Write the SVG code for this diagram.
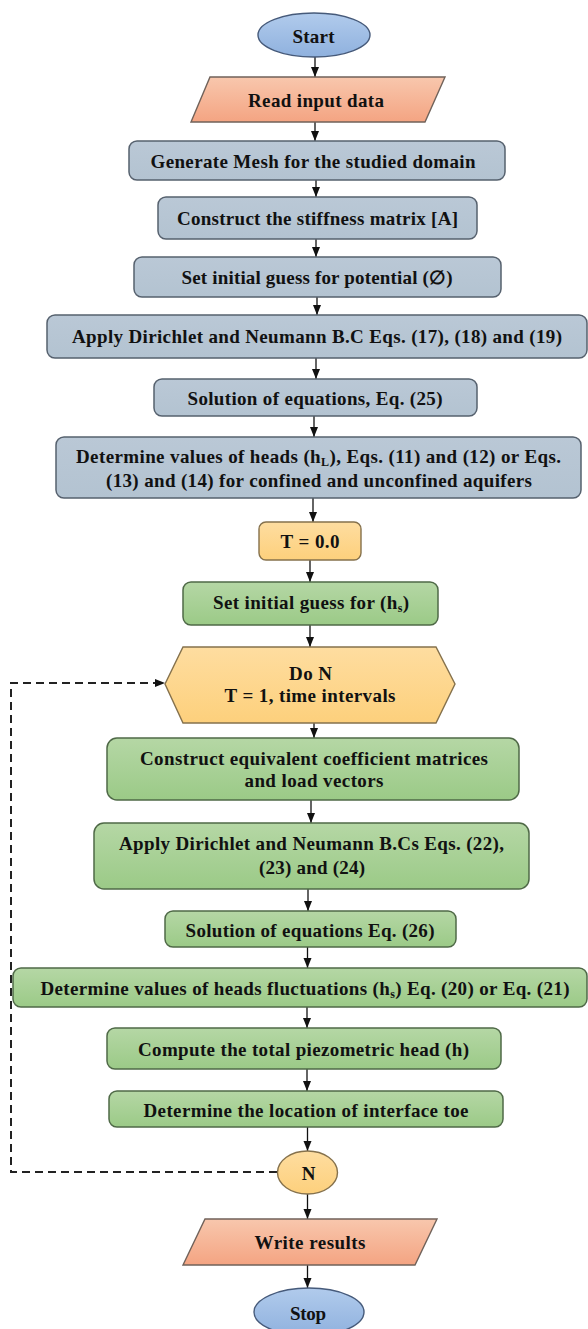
<svg xmlns="http://www.w3.org/2000/svg" width="588" height="1329" viewBox="0 0 588 1329">
<defs>
<linearGradient id="gBlue" x1="0" y1="0" x2="0" y2="1"><stop offset="0" stop-color="#b1cbec"/><stop offset="1" stop-color="#8fb1de"/></linearGradient>
<linearGradient id="gSalmon" x1="0" y1="0" x2="0" y2="1"><stop offset="0" stop-color="#f8c7ad"/><stop offset="1" stop-color="#f4a482"/></linearGradient>
<linearGradient id="gGray" x1="0" y1="0" x2="0" y2="1"><stop offset="0" stop-color="#bac8d6"/><stop offset="1" stop-color="#b3c3d1"/></linearGradient>
<linearGradient id="gGreen" x1="0" y1="0" x2="0" y2="1"><stop offset="0" stop-color="#b5d7a5"/><stop offset="1" stop-color="#9bca87"/></linearGradient>
<linearGradient id="gYellow" x1="0" y1="0" x2="0" y2="1"><stop offset="0" stop-color="#fedda0"/><stop offset="1" stop-color="#fdd07c"/></linearGradient>
<marker id="arr" markerUnits="userSpaceOnUse" markerWidth="10" markerHeight="10" viewBox="0 0 10 10" refX="10" refY="5" orient="auto">
<path d="M0,1 L10,5 L0,9 Z" fill="#111"/>
</marker>
</defs>
<style>
text{font-family:"Liberation Serif","DejaVu Serif",serif;font-weight:bold;font-size:19px;fill:#111;text-anchor:middle}
.sub{font-size:12px}
.gray{fill:url(#gGray);stroke:#56616e;stroke-width:1.5}
.green{fill:url(#gGreen);stroke:#4f6947;stroke-width:1.5}
.yellow{fill:url(#gYellow);stroke:#85714c;stroke-width:1.4}
.salmon{fill:url(#gSalmon);stroke:#70625a;stroke-width:1.4}
.blue{fill:url(#gBlue);stroke:#465a7a;stroke-width:1.4}
.conn line{stroke:#111;stroke-width:1.3;marker-end:url(#arr)}
.dash{fill:none;stroke:#222;stroke-width:2;stroke-dasharray:8 5;marker-end:url(#arr)}
</style>
<rect width="588" height="1329" fill="#ffffff"/>

<g class="conn" id="connectors">
<line x1="315" y1="57" x2="315" y2="77"/>
<line x1="315" y1="122" x2="315" y2="141"/>
<line x1="316" y1="180" x2="316" y2="197"/>
<line x1="316" y1="239" x2="316" y2="257"/>
<line x1="317" y1="297" x2="317" y2="315"/>
<line x1="316" y1="358" x2="316" y2="379"/>
<line x1="314" y1="416" x2="314" y2="437"/>
<line x1="313" y1="498" x2="313" y2="522"/>
<line x1="310" y1="560" x2="310" y2="582"/>
<line x1="310" y1="625" x2="310" y2="647"/>
<line x1="314" y1="723" x2="314" y2="738"/>
<line x1="311" y1="800" x2="311" y2="823"/>
<line x1="308" y1="889" x2="308" y2="911"/>
<line x1="307.5" y1="947" x2="307.5" y2="968"/>
<line x1="307" y1="1007" x2="307" y2="1028"/>
<line x1="307" y1="1069" x2="307" y2="1091"/>
<line x1="307.5" y1="1127" x2="307.5" y2="1151"/>
<line x1="307.5" y1="1194" x2="307.5" y2="1219"/>
<line x1="307.5" y1="1265" x2="307.5" y2="1288"/>
<path class="dash" d="M277,1172 L11,1172 L11,683 L165,683"/>
</g>

<g id="start">
<ellipse class="blue" cx="314" cy="35" rx="56" ry="22"/>
<text x="313.5" y="43" textLength="42">Start</text>
</g>
<g id="read-input">
<polygon class="salmon" points="210,77 445,77 425,122 191,122"/>
<text x="316" y="107" textLength="136">Read input data</text>
</g>
<g id="generate-mesh">
<rect class="gray" x="129" y="141" width="376" height="39" rx="8"/>
<text x="313" y="168" textLength="325">Generate Mesh for the studied domain</text>
</g>
<g id="stiffness">
<rect class="gray" x="158" y="197" width="319" height="42" rx="8"/>
<text x="317.5" y="225" textLength="281">Construct the stiffness matrix [A]</text>
</g>
<g id="initial-potential">
<rect class="gray" x="134" y="257" width="367" height="40" rx="8"/>
<text x="317" y="284" textLength="271">Set initial guess for potential (∅)</text>
</g>
<g id="apply-bc1">
<rect class="gray" x="47" y="315" width="540" height="43" rx="8"/>
<text x="317" y="342.5" textLength="490">Apply Dirichlet and Neumann B.C Eqs. (17), (18) and (19)</text>
</g>
<g id="solution25">
<rect class="gray" x="154" y="379" width="323" height="37" rx="8"/>
<text x="315" y="405" textLength="255">Solution of equations, Eq. (25)</text>
</g>
<g id="heads-hl">
<rect class="gray" x="56" y="437" width="525" height="61" rx="8"/>
<text x="318.5" y="463" textLength="485">Determine values of heads (h<tspan class="sub" dy="3">L</tspan><tspan dy="-3">), Eqs. (11) and (12) or Eqs.</tspan></text>
<text x="319" y="487" textLength="426">(13) and (14) for confined and unconfined aquifers</text>
</g>
<g id="t0">
<rect class="yellow" x="259" y="522" width="102" height="38" rx="7"/>
<text x="310" y="548" textLength="59">T = 0.0</text>
</g>
<g id="initial-hs">
<rect class="green" x="183" y="582" width="255" height="43" rx="8"/>
<text x="311" y="609" textLength="196">Set initial guess for (h<tspan class="sub" dy="3">s</tspan><tspan dy="-3">)</tspan></text>
</g>
<g id="do-n">
<polygon class="yellow" points="165,684 183,647 436,647 455,684 436,723 183,723"/>
<text x="310.5" y="680" textLength="43">Do N</text>
<text x="310" y="702" textLength="171">T = 1, time intervals</text>
</g>
<g id="coef-matrices">
<rect class="green" x="107" y="738" width="412" height="62" rx="10"/>
<text x="314" y="765" textLength="348">Construct equivalent coefficient matrices</text>
<text x="314" y="787" textLength="139">and load vectors</text>
</g>
<g id="apply-bc2">
<rect class="green" x="94" y="823" width="435" height="66" rx="10"/>
<text x="311.5" y="850" textLength="385">Apply Dirichlet and Neumann B.Cs Eqs. (22),</text>
<text x="312" y="874" textLength="106">(23) and (24)</text>
</g>
<g id="solution26">
<rect class="green" x="165" y="911" width="291" height="36" rx="8"/>
<text x="310" y="937" textLength="249">Solution of equations Eq. (26)</text>
</g>
<g id="heads-hs">
<rect class="green" x="13" y="968" width="574" height="39" rx="8"/>
<text x="305" y="995" textLength="529">Determine values of heads fluctuations (h<tspan class="sub" dy="3">s</tspan><tspan dy="-3">) Eq. (20) or Eq. (21)</tspan></text>
</g>
<g id="total-head">
<rect class="green" x="107" y="1028" width="394" height="41" rx="8"/>
<text x="303.5" y="1055.5" textLength="331">Compute the total piezometric head (h)</text>
</g>
<g id="interface-toe">
<rect class="green" x="109" y="1091" width="394" height="36" rx="8"/>
<text x="306" y="1117" textLength="325">Determine the location of interface toe</text>
</g>
<g id="n-loop">
<ellipse class="yellow" cx="307.5" cy="1172.5" rx="30" ry="21.5"/>
<text x="308.5" y="1180" textLength="17">N</text>
</g>
<g id="write-results">
<polygon class="salmon" points="205,1219 437,1219 415,1265 183,1265"/>
<text x="310" y="1249" textLength="111">Write results</text>
</g>
<g id="stop">
<ellipse class="blue" cx="309" cy="1312" rx="55" ry="24"/>
<text x="308" y="1320" textLength="36">Stop</text>
</g>
</svg>
